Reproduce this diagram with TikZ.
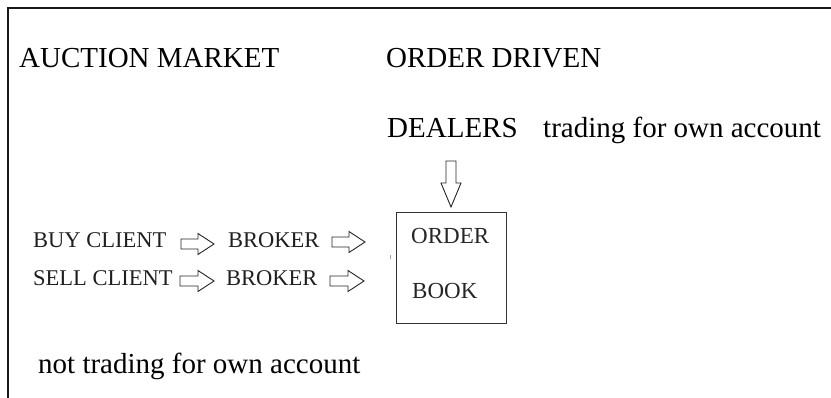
\documentclass[tikz,border=0pt]{standalone}
\usepackage{fontspec}
\setmainfont{Liberation Serif}
\begin{document}
\begin{tikzpicture}[x=1pt,y=-1pt,
  bigtxt/.style={inner sep=0pt,anchor=base west,font=\fontsize{29}{34}\selectfont,text=black},
  smalltxt/.style={inner sep=0pt,anchor=base west,font=\fontsize{22.5}{26}\selectfont,text=black!88},
  booktxt/.style={inner sep=0pt,anchor=base west,font=\fontsize{23}{27}\selectfont,text=black!85},
  outline/.style={draw=black!85,line width=0.9pt,fill=white,line join=miter},
  pics/rblock/.style={code={
    \draw[outline] (0,-5) -- ({#1-16},-5) -- ({#1-16},-10.5) -- (#1,0)
      -- ({#1-16},10.5) -- ({#1-16},5) -- (0,5) -- cycle;}},
  pics/dblock/.style={code={
    \draw[outline] (-5,0) -- (-5,{#1-24}) -- (-10,{#1-24}) -- (0,#1)
      -- (10,{#1-24}) -- (5,{#1-24}) -- (5,0) -- cycle;}}
]
\useasboundingbox (0,0) rectangle (831,397);

% frame: top and left edges
\draw[line width=2pt,black!90] (833,8) -- (8,8) -- (8,399);

% headings
\node[bigtxt] (auction) at (19,67) {AUCTION MARKET};
\node[bigtxt] (orderdriven) at (386,67) {ORDER DRIVEN};
\node[bigtxt] (dealers) at (387,137) {DEALERS};
\node[bigtxt] (own) at (543,137) {trading for own account};
\node[bigtxt] (notown) at (38,373) {not trading for own account};

% clients and brokers
\node[smalltxt] (buy) at (33,247) {BUY CLIENT};
\node[smalltxt] (sell) at (33,285) {SELL CLIENT};
\node[smalltxt] (broker1) at (228,247) {BROKER};
\node[smalltxt] (broker2) at (226,285) {BROKER};

% order book
\node[draw=black!80,line width=0.8pt,minimum width=110pt,minimum height=111pt,
      inner sep=0pt] (book) at (451,267.5) {};
\node[booktxt] (ordertxt) at (411,243) {ORDER};
\node[booktxt] (booktxt) at (412,298) {BOOK};

% block arrows
\pic at (181,244) {rblock=33};
\pic at (332,242) {rblock=33};
\pic at (180,281) {rblock=34};
\pic at (330,281) {rblock=34};
\pic at (451,161) {dblock=46};

% small stray mark left of the book
\draw[black!35,line width=0.8pt] (390.5,255) -- (390.5,259);
\end{tikzpicture}
\end{document}
